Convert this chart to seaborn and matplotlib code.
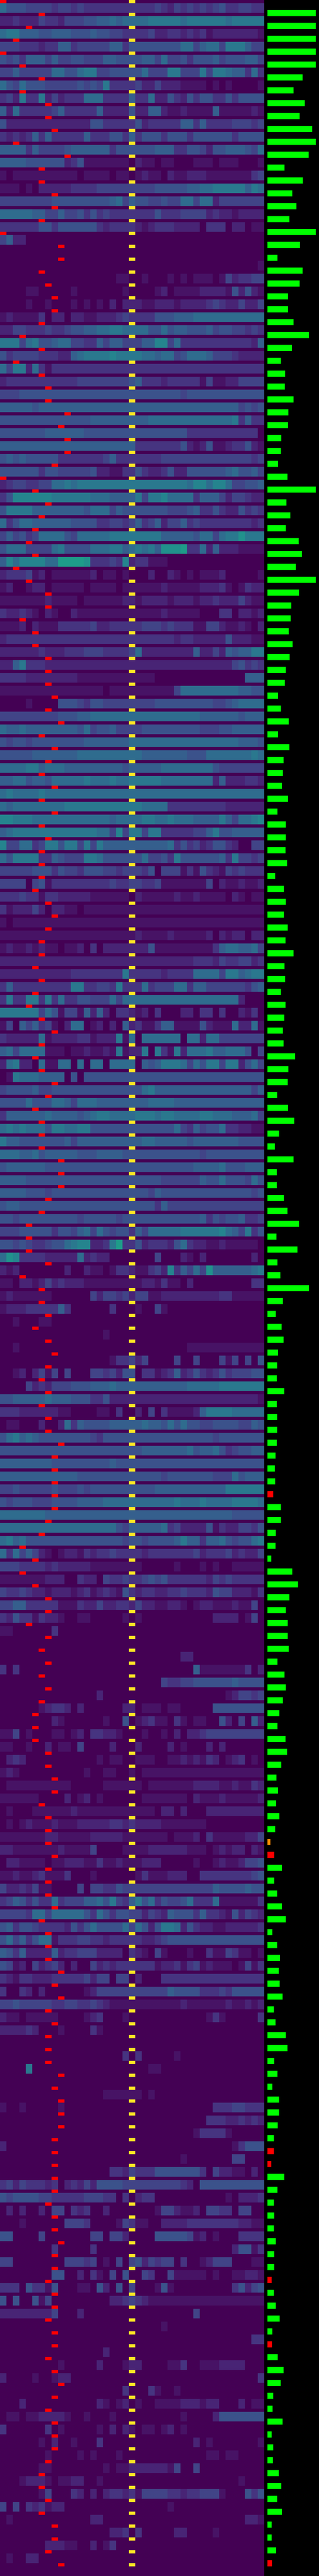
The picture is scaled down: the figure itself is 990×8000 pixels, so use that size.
import numpy as np
import matplotlib
matplotlib.use("Agg")
import matplotlib.pyplot as plt
import seaborn as sns

N_COLS = 41
PEAK_COL = 20

# column holding the red marker, one per row pair
marker_cols = [
0,6,4,2,0,3,6,3,7,7, 8,2,10,6,6,8,8,6,0,9, 9,6,7,8,8,6,3,6,2,6, 7,7,10,9,10,10,8,0,5,7,
6,5,4,5,2,4,7,7,3,5, 5,7,7,7,8,7,9,6,8,7, 6,8,6,8,6,7,6,6,6,5, 7,8,7,6,6,5,6,5,4,6,
8,6,5,6,8,7,5,6,6,6, 9,9,9,7,6,4,4,4,7,3, 6,6,7,5,7,8,7,6,7,6, 7,7,9,8,8,8,8,8,7,6,
3,5,3,5,7,7,4,7,6,7, 6,7,6,5,5,5,7,7,8,8, 6,7,7,7,8,7,7,7,8,6, 7,7,7,9,8,9,7,8,7,7,
7,9,8,9,9,9,8,8,8,8, 8,7,8,8,9,8,8,7,8,8, 7,8,8,7,8,9,8,7,8,8, 8,7,6,6,7,6,8,8,7,9]

# bar lengths, from the second row pair on
bar_values = [
237,237,237,237,237,172,129,183,158,220,237,202,84,175,122,142,107,237,160,49,172,158,101,101,129,204,120,66,87,85,128,103,
101,68,66,53,98,237,93,112,90,153,169,139,237,155,118,114,104,123,109,91,85,52,
66,104,52,107,79,76,71,101,49,91,90,88,96,38,80,90,80,99,88,129,84,87,66,88,82,76,79,137,103,99,47,
101,131,57,36,129,46,46,80,98,156,44,148,49,63,204,76,41,69,79,53,47,46,82,
46,47,47,46,39,36,38,28,66,66,41,39,19,122,150,107,91,99,99,104,49,84,91,
76,58,49,88,96,68,44,52,42,58,38,15,33,71,33,47,72,90,23,47,61,55,60,
74,31,39,91,98,34,49,23,57,57,50,31,31,19,82,49,31,33,31,41,34,34,20,
31,41,60,23,22,50,79,65,28,25,74,20,28,27,55,68,47,72,20,20,42,22]
red_bars = [116,144,167,168,177,182,199]
orange_bars = [143]

# one string per row pair: "start_col:level" (hex level, level/20 is the value)
rows_a = [
"0:7 1:5 4:4 8:3 9:4 11:3 12:4 13:3 19:3 21:3 24:4 25:3 26:2 27:4 28:3 29:4 30:3 31:4 32:3 33:4 34:5 35:3 37:4 39:3",
"0:2 2:3 3:2 6:4 7:3 9:2 10:4 13:5 15:6 17:7 18:6 19:7 23:8 28:7 29:8 35:7 36:8",
"0:7 1:8 3:6 6:5 8:6 11:5 14:6 15:5 17:4 19:3 23:4 24:2 26:3 28:2 29:3 30:2 31:3 32:1 33:2 36:2 40:1",
"0:4 3:3 6:2 7:3 9:6 11:3 12:4 17:6 19:3 20:5 28:7 30:4 31:6 32:7 34:4 35:8 38:6 39:4",
"0:5 1:4 2:5 3:3 4:6 7:4 8:6 9:4 11:5 13:4 16:6 18:5 22:6 24:4 25:7 26:4 28:5 29:3 30:5 33:6 34:4 35:5 38:6 40:4",
"0:4 2:6 3:4 8:7 10:5 12:7 13:8 15:4 17:5 22:7 23:4 26:8 28:4 31:8 32:4 33:8 35:7 36:6 38:3 39:7 40:3",
"0:7 1:5 2:4 3:7 4:5 7:4 12:5 13:4 14:5 15:4 16:8 17:3 21:4 22:2 24:4 25:2 28:1 32:0 33:1 34:0 35:1 36:0 40:1",
"0:3 1:4 2:2 3:8 4:3 6:8 7:2 8:4 9:2 10:3 13:7 16:3 20:6 21:3 23:7 24:2 26:5 27:3 28:2 29:5 30:3 31:5 33:3 35:5 36:3 37:5",
"0:6 1:2 2:7 3:3 8:4 9:6 10:3 15:6 16:2 20:5 21:2 23:6 25:2 26:1 28:2 29:1 33:6 34:1 39:2 40:1",
"0:5 1:2 14:5 16:3 21:5 22:2 23:3 28:6 30:3 31:6 32:3 36:4 39:3 40:4",
"0:3 1:2 2:3 3:2 4:3 5:6 6:3 7:6 8:3 13:6 14:3 17:5 19:3 20:6 21:3 22:5 25:3 26:5 29:3 30:5 36:3 37:5",
"0:6 4:3 5:6 6:4 10:5 11:6 17:3 18:5 24:6 27:3 29:5 31:4 32:2 33:5 35:6 38:5 39:4 40:7",
"0:6 4:5 10:2 11:3 12:5 13:1 20:0 21:2 22:1 24:0 25:1 27:0 30:1 33:0 34:1 37:0 40:1",
"0:1 1:0 2:1 12:0 13:1 17:0 18:1 20:0 21:1 22:2 23:1 25:0 26:2 27:1 29:2 32:1 39:3 40:4",
"0:1 3:0 4:1 5:0 6:2 10:2 11:3 13:3 15:4 24:5 29:6 31:7 33:8 38:6 39:8 40:7",
"0:4 8:5 17:6 18:7 19:4 20:6 21:5 23:4 25:5 26:4 28:7 30:4 31:7 33:2 34:4",
"0:7 5:6 7:4 9:6 10:4 12:5 13:3 14:5 15:3 16:4 17:3 24:5 25:3 28:4 32:2 33:3 34:2 36:1 37:2",
"0:3 6:5 8:3 9:5 15:3 16:2 17:3 21:2 22:1 23:2 24:3 27:2 31:0 32:3 35:0 36:2 38:0 39:1",
"0:4 1:6 2:2 4:0",
"0:0",
"0:0 40:1",
"0:0 18:1 20:0 22:1 23:0 26:1 27:0 28:1 29:0 30:1 33:0 34:1 35:4 36:2 37:3 39:4",
"0:0 4:1 6:0 11:1 12:0 19:1 20:0 24:1 25:2 26:0 27:1 31:2 33:2 35:1 36:5 37:2 38:5 39:2 40:1",
"0:0 4:1 5:0 7:1 8:0 11:1 12:0 13:1 14:0 15:1 16:0 17:2 18:0 19:2 22:1 24:2 27:1 28:2 32:3 33:4 34:3 35:2 37:4 38:2 40:4",
"0:1 1:2 2:1 6:3 7:0 8:2 10:0 11:2 13:1 15:2 18:3 19:4 20:3 24:5 27:6 30:7",
"0:2 2:4 4:3 7:4 8:3 10:4 11:5 13:6 15:7 17:8 19:7 23:5 25:7 26:5 27:6 29:5 32:6 33:4 34:5 36:4 38:3 39:4 40:3",
"0:8 3:4 4:7 5:8 6:5 8:6 9:7 11:4 13:3 15:6 16:4 17:6 19:4 22:6 24:9 26:4 27:7 28:3 39:2 40:6",
"0:5 1:3 2:4 6:3 9:2 11:6 12:7 13:8 17:9 18:8 22:7 24:6 25:7 27:4 28:5 29:7 32:6 33:4 36:3 37:2",
"0:7 1:4 2:8 4:2 5:7 6:3 7:1 8:3",
"0:2 1:3 12:4 20:5 21:6 22:3 25:2 26:3 31:1 32:4 33:1 35:2 37:4",
"0:4 3:5 28:4 29:5",
"0:6 5:5 6:6 37:4 38:5 39:4 40:5",
"0:5 14:6 23:7 36:8 37:3 38:6 39:3",
"0:5 7:6 13:5 29:3 40:0",
"0:6 21:3 28:5 29:2 30:1 31:2 32:5 33:1 35:2 36:3 38:5 39:2 40:1",
"0:5 1:6 2:5 3:6 4:5 9:3 16:4 17:6 18:3 25:4 36:4 39:3 40:4",
"0:5 6:3 7:5 9:4 14:5 15:2 17:1 19:3 21:5 22:3 23:2 25:3 26:5 27:2 29:5 35:6 36:7 37:5 39:6 40:4",
"0:2 1:3 2:4 4:3 6:4 8:7 10:8 11:7 12:8 29:7 30:9 32:7 33:9 35:7 36:4 38:5 40:6",
"0:3 1:5 2:9 8:8 14:7 17:6 21:8 22:4 23:8 25:9 26:7 30:3 31:6 34:4 35:2 36:4 38:3 39:2",
"0:5 1:8 5:6 9:6 13:5 14:7 17:4 18:6 19:5 26:4 29:5 30:6 31:3 33:5 34:3 35:2 37:5 38:3 39:4 40:3",
"0:7 1:3 2:5 3:7 5:6 11:5 15:3 17:4 19:3 20:4 21:6 22:3 23:4 24:6 25:2 26:4 28:6 29:3 30:4 31:3 39:2 40:3",
"0:4 1:6 2:4 3:5 4:3 5:4 6:7 10:5 11:4 12:7 17:8 25:6 30:5 31:7 33:4 34:7 35:8 37:a 38:8",
"0:5 1:7 4:4 8:7 9:8 10:5 14:7 17:8 19:6 20:7 21:8 22:7 23:8 24:6 25:a 28:b 29:3 31:7 32:2 33:6 34:2 37:1",
"0:6 1:9 2:7 3:9 7:7 9:b 13:a 14:3 17:4 18:3 19:9 20:2 21:3 23:1 26:0",
"0:2 1:3 4:4 5:1 6:2 7:0 8:1 14:2 15:0 16:1 18:0 19:1 20:0 23:2 24:0 26:2 27:1 28:0 29:1 30:0 31:1 34:2 35:0 40:1",
"0:1 1:2 2:0 4:1 5:2 7:0 8:1 13:0 14:1 18:0 19:1 25:2 26:1 31:2 34:3 35:1 36:0 37:1 38:3 39:2",
"0:1 7:2 8:1 12:0 13:1 19:2 21:1 22:2 26:1 27:2 30:1 31:2 33:3 34:2 37:4 38:2 39:1",
"0:3 1:2 3:3 4:2 5:1 6:0 7:2 8:1 9:0 11:2 12:1 25:2 26:1 31:0 34:3 36:0 37:2 39:1 40:2",
"0:1 3:2 4:0 5:2 6:1 9:3 14:4 15:2 17:3 22:4 25:3 26:4 27:3 30:1 32:4 34:2 35:1 37:2 38:1 39:0 40:2",
"0:2 1:3 27:2 28:3 30:2 35:5 36:2 39:1",
"0:2 6:3 7:2 10:3 13:4 16:3 20:4 21:7 22:2 30:6 31:2 33:4 34:2 35:6 36:5 37:6 39:8",
"0:2 2:6 3:8 4:3 7:2 35:2 36:4 37:5 38:3 39:4 40:3",
"0:3 4:2 12:1 24:0 38:6",
"0:1 16:0 17:1 25:1 27:4 28:7 37:6 39:5",
"0:0 4:1 5:0 9:5 12:4 13:3 14:5 16:4 24:5 33:4 35:5 36:6 37:7",
"0:4 9:5 12:6 14:7 31:6 37:5 38:6",
"0:7 1:6 3:7 4:6 12:5 13:7 14:4 15:5 17:6 18:4 22:5 31:4 34:5 36:6",
"0:5 1:4 2:5 4:4 5:5 13:6 20:7 37:6 40:5",
"0:5 5:6 12:7 22:6 29:5 32:7 39:8 40:7",
"0:7 4:8 6:6 7:7 10:6 19:5 20:6 25:7 33:5 34:4",
"0:6 2:7 4:5 5:6 7:5 8:7 13:8 14:7 17:8 18:7 20:8 25:7 33:2 34:6 35:2 38:3 40:2",
"0:7 1:8 2:7 6:8 7:7",
"0:7 1:6 2:7 10:8 22:7 26:3 35:2",
"0:9 2:8 5:7 17:6 18:7 22:8 24:7 26:8 27:7 30:6 34:8 35:6 36:4 37:7 39:8 40:9",
"0:6 1:7 2:8 15:7 17:4 18:9 19:4 20:8 22:4 23:8 25:3 30:4 32:6 33:8 34:5 36:6",
"0:9 1:4 3:7 5:3 6:4 7:8 9:5 10:8 12:4 13:8 14:4 15:8 16:6 26:7 27:3 28:5 29:3 30:4 31:2 32:3 33:5 35:3 36:2 37:0 39:4",
"0:7 1:5 2:8 6:3 8:6 9:5 10:4 13:8 15:7 16:5 22:7 23:4 25:5 26:3 27:8 28:5 34:6 35:3 36:8 37:4 39:3 40:4",
"0:4 5:5 8:3 9:5 10:4 12:3 13:5 16:4 18:3 19:4 22:3 23:5 24:0 25:4 28:1 29:3 30:1 31:5 32:3 33:2 34:1 35:4 36:3 37:4 38:3",
"0:4 4:0 5:4 6:5 7:1 8:3 17:4 18:3 20:4 22:3 24:4 25:1 32:4 33:0 34:2 35:1 37:2 38:1 40:2",
"0:3 3:4 4:3 6:1 7:3 9:2 14:1 20:0 21:2 22:1 27:2 28:1 30:2 31:1 35:0 36:2 37:1 38:0 39:1",
"0:3 1:1 2:2 5:4 6:2 7:0 8:2 10:1 12:0 13:1",
"0:1 1:0 2:1",
"0:1 21:2 22:1 26:2 27:1 32:2 33:0 34:2 35:1 36:2 38:0 39:2",
"0:1 1:2 2:1 4:2 5:1 6:2 7:1 9:0 10:1 12:2 13:0 14:3 15:0 16:2 23:5 24:1 33:3 34:6 35:7 37:6 39:7 40:4",
"0:2 30:3 33:2 34:4 35:3 37:4 39:2 40:3",
]
rows_b = [
"0:2 11:3 19:8 20:3 25:2 26:3 30:7 34:4 35:8 37:6 38:7 39:8",
"0:3 1:6 2:3 11:8 13:3 15:4 17:3 18:8 19:3 22:7 23:3 24:4 27:7 29:3 30:6 32:4 38:3 39:5 40:6",
"0:3 1:8 2:3 4:8 6:3 7:8 8:3 9:7 10:3 12:5 14:4 17:7 18:4 19:7 37:2 38:0",
"0:8 6:4 7:7 8:5 9:1 10:4 12:1 13:6 14:2 15:6 16:2 17:0 18:3 20:2 21:1 22:2 23:0 24:3 25:0 28:2 30:0 31:3 33:0 34:3 35:0 37:2 38:1 39:3 40:0",
"0:1 1:4 2:0 3:6 4:4 5:6 6:3 7:4 8:1 9:0 10:2 11:7 13:0 14:1 15:2 16:0 17:2 18:0 19:6 20:2 21:3 22:1 24:3 25:6 27:1 31:5 32:2 33:1 36:7 37:2 39:7 40:1",
"0:3 1:2 6:7 7:1 8:2 12:3 14:1 15:2 18:8 19:1 20:7 21:0 22:7 28:0 29:7 31:2 32:7 34:4",
"0:6 1:7 2:4 3:7 7:1 10:0 11:1 13:2 14:1 16:2 17:1 18:8 19:1 20:2 22:8 23:0 24:8 25:3 26:1 27:8 28:2 29:7 32:8 33:6 35:7 38:5 39:0 40:4",
"0:2 1:7 2:8 3:2 5:0 6:7 7:1 9:7 11:0 12:7 13:0 14:7 16:0 17:7 21:0 22:6 23:5 24:6 25:8 28:7 29:4 30:7 31:5 32:8 34:4 35:8 37:2 38:5 39:7 40:4",
"0:0 1:1 2:8 3:7 6:6 10:0 11:5 12:0 13:5",
"0:4 1:5 5:6 6:4 8:5 22:7 23:8 24:6 39:4 40:6",
"0:5 4:7 5:5 8:7 10:6 11:4 12:7 15:6 23:7 27:6",
"0:3 1:6 7:7 8:6 12:5 13:6 14:7 15:8 17:7 21:8 24:7 25:8 27:7 31:8 33:7 36:6 39:7 40:4",
"0:7 1:8 2:7 3:8 4:7 7:5 8:8 10:7 12:8 14:5 27:7 28:4 29:3 30:6 31:4 32:5 34:7 35:3 37:2 39:1",
"0:8 1:6 3:5 10:6 11:4 12:6 22:7 24:6 29:5 30:6 37:5",
"0:7 3:6 5:7 6:5 7:6 12:5 15:6 19:5 31:4 32:5",
"0:5 1:6 7:5 30:6 34:7 35:5 38:6",
"0:6 4:5 25:4 31:6 32:5 34:7 35:5 38:4 39:7 40:5",
"0:6 4:5 7:4 8:5 23:4 24:6 25:5 39:4 40:5",
"0:5 1:6 3:5 24:3 25:6 26:4",
"0:5 2:4 3:5 12:4 13:5 18:4 19:5 31:6 32:3 33:5 34:4 35:5 37:6 38:3 40:4",
"0:4 3:5 8:3 9:5 11:4 12:6 13:7 14:4 15:7 16:5 17:4 18:5 20:3 21:6 22:4 23:7 28:8 34:9 35:7 36:6 37:4 38:8 39:3 40:5",
"0:5 2:4 3:5 4:4 5:3 7:4 8:5 10:7 11:8 12:9 14:2 16:3 17:8 18:b 19:3 21:5 22:2 23:3 26:2 27:5 28:7 29:3 30:2 32:1 34:2 35:1 40:0",
"0:7 1:a 2:9 3:3 7:2 12:7 13:2 14:3 15:2 17:0 24:4 25:0 28:2 29:1 30:0 31:2 32:0 39:2 40:0",
"0:2 1:1 2:2 3:0 10:2 11:0 13:2 14:1 16:0 17:1 18:3 20:2 21:1 23:3 24:4 25:2 26:9 27:3 28:6 29:4 30:7 31:4 32:a 33:6 39:7 40:8",
"0:1 2:0 3:2 5:1 6:2 7:4 8:2 9:3 10:2 13:1 22:2 24:1 25:3 26:1 28:0 29:2 30:0 39:3",
"0:1 1:2 2:1 8:0 14:4 15:2 16:4 18:3 19:4 20:2 21:4 23:1 25:2 34:3 36:1",
"0:1 1:2 4:3 9:6 10:3 11:0 17:3 18:0 21:1 22:0 24:4 25:1 26:0",
"0:0 2:1 3:0 6:1 8:0",
"0:0 16:1 17:0",
"0:0 2:1 3:0 29:1",
"0:0 17:1 18:3 20:4 21:2 22:4 23:0 27:4 28:0 30:4 31:0 34:4 35:1 36:4 37:0 38:4 39:0 40:5",
"0:0 2:1 3:2 4:0 5:2 6:4 7:1 8:4 9:0 10:4 11:0 14:4 16:3 17:4 18:2 19:5 21:0 22:3 24:1 25:2 26:3 27:6 28:2 29:3 30:5 31:3 32:2 33:3 34:5 35:3 36:4 39:5",
"0:0 4:4 5:2 6:3 7:2 8:4 11:5 14:6 17:7 18:6 29:7 34:8",
"0:5 2:6 7:7 8:6 11:5 14:3 16:5 17:2 40:1",
"0:3 3:2 9:1 11:0 15:1 17:0 18:3 19:0 21:2 22:0 23:4 24:0 25:3 26:1 30:2 31:6 32:8 36:7",
"0:0 1:1 3:0 6:2 7:0 9:2 10:7 11:3 12:6 13:5 17:6 22:7 23:6 25:5 26:7 27:5 28:7 29:5 31:4 33:5 37:4 39:6 40:5",
"0:5 1:7 2:8 3:6 4:7 5:6 6:5 14:4 15:3 16:5 33:4 34:5",
"0:5 21:5 22:6 29:7 30:5 31:6 33:7 34:5 35:3 36:4 37:5 39:6",
"0:6 8:5 17:6 18:5",
"0:6 12:5 25:4 26:5 33:4 36:7 37:5 38:6",
"0:4 2:5 3:4 8:5 9:4 12:5 13:4 14:5 24:6 35:8",
"0:5 1:4 2:5 5:4 8:5 12:6 16:7 27:8 28:7 31:8 32:7 36:8 40:7",
"0:7 7:6 36:5",
"0:7 18:5 19:4 20:6 25:7 26:3 27:4 28:2 32:5 33:1 34:3 35:2 37:4 39:3 40:5",
"0:7 1:8 2:6 3:7 4:5 19:4 20:5 22:4 23:5 27:6 28:8 29:6 31:3 32:6 34:7 35:5 36:4 37:5 39:7 40:8",
"0:7 1:3 2:7 3:4 4:6 5:4 6:2 7:1 8:0 9:1 10:2 12:1 13:3 14:2 15:3 17:4 18:3 22:2 23:3 30:4 31:2 32:3 35:4 36:2 37:3 38:2 40:4",
"0:4 3:3 7:2 8:3 9:2 14:1 22:0 27:1 28:0 31:1 32:0 33:1 34:0 36:1",
"0:1 7:2 10:0 12:3 13:2 15:0 16:4 17:3 19:4 20:3 22:4 23:5 24:4 25:5 26:3 32:2 33:4 34:3 35:4 36:3",
"0:4 1:3 3:4 4:3 5:2 7:1 8:2 11:1 12:2 13:3 14:1 15:2 16:3 17:2 18:1 19:5 20:3 21:2 22:3 24:2 26:3 28:4 29:3 32:2 33:5 34:4 36:2 39:1 40:3",
"0:4 2:6 4:3 9:1 12:3 13:2 15:4 16:2 18:3 20:2 21:4 22:2 24:1 26:2 28:1 29:0 30:1 31:2 33:1 36:2 37:1 39:4 40:0",
"0:3 1:2 2:5 3:3 5:1 6:3 7:2 9:1 10:0 12:1 14:0 19:1 20:0 21:1 22:0 33:2 37:0 38:1 39:4 40:0",
"0:1 2:0 8:3 9:0",
"0:0",
"0:0 28:2 30:0",
"0:3 1:0 2:3 3:0 30:6 31:1 37:1 38:3 39:0 40:2",
"0:0 25:4 26:3 28:4 30:5 36:6 37:5",
"0:0 15:2 16:0 35:1 36:2 37:4 39:3 40:4",
"0:0 6:1 7:2 8:3 10:2 11:0 12:2 13:0 19:2 21:0 22:1 25:0 26:1 28:0 33:5",
"0:0 8:2 9:1 10:0 16:1 17:0 19:5 20:0 21:1 22:2 23:3 24:1 26:0 27:3 28:1 29:0 30:1 32:0 34:5 35:2 36:0 37:4 38:0 39:6 40:2",
"0:1 2:4 3:0 4:1 5:0 8:1 10:0 11:1 12:2 13:0 14:3 16:2 18:1 19:0 22:1 23:0 25:1 26:0 27:2 28:0 29:2 31:3 32:4",
"0:1 2:0 4:1 5:0 7:2 8:0 9:1 11:0 12:4 13:0 17:2 18:0 21:2 22:0 26:2 27:0 28:1 29:0 32:2 33:0 34:2 35:0",
"0:0 1:2 2:3 3:2 4:0 15:1 16:0 17:1 19:0 21:1 24:0 26:1 28:2 29:1 30:2 31:1 32:3 33:2 34:0 35:1 36:2 37:3 38:0 39:1 40:0",
"0:1 1:2 2:1 3:0 13:1 14:0 16:1 18:0 20:1 21:0 22:1",
"0:0 1:1 11:0 16:1 22:0 23:1 30:2 34:1 36:2 37:1 39:3 40:2",
"0:1 6:0 10:2 11:0 12:1 13:2 14:0 15:1 16:0 22:1 29:0 30:2 31:1 34:2 35:1 40:2",
"0:0 1:1 2:0 5:1 11:2 12:1 24:0 25:2 27:0 28:2 29:0 32:2",
"0:0 1:1 2:0 3:1 4:2 5:1 8:2 9:1 12:2 17:3 19:2 20:3 21:2 25:1 32:0",
"0:1 7:2 9:1 14:2 19:1 26:0 27:1 30:2 31:0 32:3 33:1 38:2 40:4",
"0:2 2:1 9:2 10:1 14:4 15:0 19:1 23:2 29:1 32:0 33:1 34:2 35:1 36:2 38:0 39:2 40:1",
"0:0 1:2 3:1 7:0 8:1 10:2 13:1 15:3 16:1 18:2 19:1 22:2 25:0 30:1 31:0 33:1 34:2 35:1 37:2 38:4 40:5",
"0:1 2:2 3:1 5:2 6:3 7:1 10:3 11:0 14:1 15:0 21:1 22:3 23:1 26:2 29:0 31:3 39:4 40:5",
"0:4 1:2 3:3 4:2 5:4 6:1 8:0 12:4 13:0 14:4 16:3 18:5 19:4 33:6 34:5 38:6 39:5",
"0:3 1:4 2:6 3:5 4:3 5:5 6:3 8:7 9:3 10:4 13:6 15:7 16:5 17:8 18:4 19:3 20:6 21:8 22:5 23:7 24:3 25:5 26:4 28:5 29:7 30:3 33:7 34:1 40:3",
"0:4 4:3 5:7 7:4 8:7 13:5 14:3 15:7 16:5 17:3 18:5 20:4 22:2 23:4 24:3 25:2 26:6 27:5 30:3 31:6 32:3 34:2 35:1 36:5 37:2 38:4 39:3 40:2",
"0:5 1:6 2:3 3:5 5:4 6:3 10:2 11:5 12:3 13:5 14:7 15:5 19:7 20:4 21:7 22:5 23:2 24:5 25:8 27:7 28:2 29:5 30:3 31:2 33:1 35:2 40:3",
"0:5 1:7 2:4 3:6 4:3 5:5 6:7 8:1 9:3 12:4 14:3 16:2 17:3 22:2 24:3 25:4 26:5",
"0:6 1:5 2:3 3:6 4:2 8:6 9:2 10:3 12:4 15:2 19:0 20:3 21:2 22:1 23:0 24:4 25:1 26:0 29:1 30:0 32:3 33:1 35:4 36:3 37:1 39:0 40:1",
"0:5 1:4 2:1 3:2 4:0 5:4 6:2 7:3 8:4 9:2 10:0 11:2 12:0 14:4 15:2 16:3 17:2 18:3 24:1 25:2 27:3 28:1 29:3 30:4 31:1 32:2 33:1 36:0 37:1 38:4 39:1 40:3",
"0:3 1:2 2:1 3:3 5:2 8:3 13:4 14:2 15:4 17:0 18:4 20:0 21:2 22:0 25:3",
"0:3 1:0 3:3 4:2 5:0 6:2 7:0 13:1 14:2 15:4 26:6 27:5 31:3 34:4 35:3 36:5",
"0:4 2:5 3:4 8:3 10:4 12:3 14:4 15:3 16:2 17:1 28:2 29:1 35:2 36:1 38:2 39:1 40:2",
"0:2 1:1 3:0 4:1 9:0 13:1 14:2 15:3 16:0 19:1 20:0 32:1 33:3 34:1 35:0 40:3",
"0:2 4:3 5:2 6:0 9:1 10:0 14:3 15:1 16:0",
"0:0",
"0:0 19:3 20:0 21:3 22:0 27:1 28:0",
"0:0 4:8 5:0 23:1 25:0",
"0:0",
"0:0 16:1 22:0 23:1 24:0",
"0:1 1:0 3:1 4:0 9:1 10:0 33:3 36:4 38:3",
"0:0 32:3 35:2 37:3 38:2 39:3 40:2",
"0:0 30:1 31:3 35:1 36:0",
"0:2 1:0 36:1 37:3 38:5",
"0:0 28:1 29:0 36:4 38:0",
"0:0 17:3 19:2 20:4 21:3 24:5 31:3 32:0 33:4 34:2 36:1 38:0 39:2 40:0",
"0:3 1:4 2:2 3:4 4:3 7:2 8:3 9:0 10:2 11:3 12:2 13:4 14:2 15:5 19:4 28:3 29:2 30:0 31:5",
"0:5 1:4 2:5 6:4 8:3 12:3 13:4 16:3 18:0 19:3 20:0 21:2 22:3 24:0 35:1 36:0 37:2 40:3",
"0:0 1:2 2:0 3:2 4:0 6:2 7:0 8:4 10:0 11:3 12:2 13:3 14:0 16:2 17:0 24:1 25:4 27:2 28:1 30:2 31:0 32:4 34:3 36:0 37:4 39:0",
"0:0 3:1 4:0 10:4 13:3 14:0 18:1 19:4 20:3 21:1 23:0 25:2 29:3 37:2 39:1",
"0:5 2:0 6:4 7:0 14:4 16:0 17:4 19:2 20:0 24:5 29:4 30:1 31:2 32:0 33:1 34:0 37:3",
"0:0 8:3 9:0 14:3 15:0 36:2 37:5 39:1 40:3",
"0:4 2:0 10:4 13:3 14:4 15:0 16:1 17:0 18:4 19:0 20:4 21:5 22:2 23:4 24:3 25:4 27:0 28:3 29:0 31:1 32:2 33:4 36:0 39:1",
"0:0 8:5 10:0 12:2 13:0 14:3 15:1 16:0 17:4 18:0 19:5 20:0 22:4 23:3 24:0 26:4 27:1 32:0 33:1 34:0 36:1 38:2 40:1",
"0:3 3:0 4:5 5:3 7:1 8:5 9:0 12:1 14:0 15:5 16:2 17:0 18:5 19:0 20:4 21:0 24:1 25:5 26:1 27:0 36:3 37:5 38:2 39:4 40:5",
"0:5 1:0 2:5 3:0 5:5 6:1 7:4 8:0 17:2 19:3 20:4 21:3 22:2 23:1 39:1",
"0:2 8:4 9:0 12:2 13:0 30:4 31:0",
"0:0 25:1 26:0",
"0:0 39:3",
"0:0 16:2 17:0",
"0:0 9:1 10:0 15:2 16:0 19:1 20:2 22:0 26:1 28:3 29:0 31:1 34:2 38:0",
"0:2 1:0 5:1 6:0 8:1 9:2 11:0 40:3",
"0:0 19:3 20:0 23:3 24:1 25:0 27:1 28:0",
"0:0 3:2 4:0 15:2 16:1 17:0 18:1 19:2 20:0 21:1 22:0 24:1 28:2 31:1 32:2 34:0 37:2 38:0 39:1",
"0:0 1:1 3:0 4:1 6:2 10:1 11:0 13:1 14:0 17:1 18:0 28:1 29:0 33:2 34:5",
"0:3 1:0 7:3 8:0 9:1 10:0 15:1 16:0 17:2 18:0 19:2 20:1 21:0 22:1 24:0 25:1 26:2 27:0 28:1 29:0",
"0:0 6:1 7:0 8:2 9:0 11:1 12:0 15:3 16:0 30:2 31:0 32:1 33:0 40:1",
"0:0 7:1 8:0 12:1 13:0 14:1 15:0 18:1 19:0 32:1 34:0 35:1 37:0",
"0:0 6:1 8:0 16:1 17:0 18:1 20:2 26:1 27:4 28:0 30:4 31:0",
"0:0 3:1 4:2 7:1 8:0 9:1 11:2 13:0 15:1 16:0 37:1 38:0",
"0:0 6:1 7:4 8:0 11:3 12:2 13:0 14:2 15:0 16:2 17:3 19:2 20:3 21:1 22:4 26:3 28:2 29:3 31:4 34:1 35:0 38:5 39:3 40:5",
"0:4 1:0 2:4 3:0 4:3 5:2 6:3 7:1 8:2 10:0 26:1 27:0",
"0:0 1:1 2:0 14:2 16:0 38:2 40:1",
"0:0 17:2 19:3 20:0 21:3 22:0 27:2 29:0 33:1 34:0",
"0:0 7:2 10:1 12:0 14:2 15:0 16:1 17:3 18:0",
"0:0 1:1 2:0 4:2 6:0",
"0:0",
]
value_rows = rows_a + rows_b


def parse_row(text):
    row = np.zeros(N_COLS)
    for token in text.split():
        start, level = token.split(":")
        row[int(start):] = int(level, 16) / 20
    return row


n_pairs = len(marker_cols)
lines = []
for k in range(n_pairs):
    marks = np.zeros(N_COLS)
    marks[PEAK_COL] = 1.0
    marks[marker_cols[k]] = 2.0      # above vmax: drawn in the "over" colour
    lines.append(marks)
    vals = parse_row(value_rows[k]) if k < len(value_rows) else np.zeros(N_COLS)
    lines.extend([vals, vals, vals])  # value rows are three times as tall
matrix = np.array(lines)

cmap = matplotlib.colormaps["viridis"].copy()
cmap.set_over("#ff0000")

sns.set_theme(style="white")
W, H = 990, 8000
fig = plt.figure(figsize=(W / 100, H / 100), dpi=100, facecolor="black")
ax = fig.add_axes([0, 0, 820 / W, 1])
sns.heatmap(matrix, ax=ax, cmap=cmap, vmin=0, vmax=1, cbar=False,
            xticklabels=False, yticklabels=False, linewidths=0, rasterized=True)
ax.collections[0].set_antialiased(False)

bar_ax = fig.add_axes([820 / W, 0, 170 / W, 1], facecolor="black")
ys = np.arange(1, len(bar_values) + 1)
colors = ["#ff0000" if k in red_bars else "#ff8c00" if k in orange_bars else "#00ff00" for k in ys]
bar_ax.barh(ys, bar_values, height=19 / 40, color=colors, linewidth=0)
bar_ax.set_xlim(-10 * 1.584, 160 * 1.584)
bar_ax.set_ylim(200 - 0.0125, -0.0125)
bar_ax.axis("off")

fig.savefig("out.png", dpi=100, facecolor="black")
print(len(value_rows), len(bar_values), len(marker_cols), matrix.shape)
